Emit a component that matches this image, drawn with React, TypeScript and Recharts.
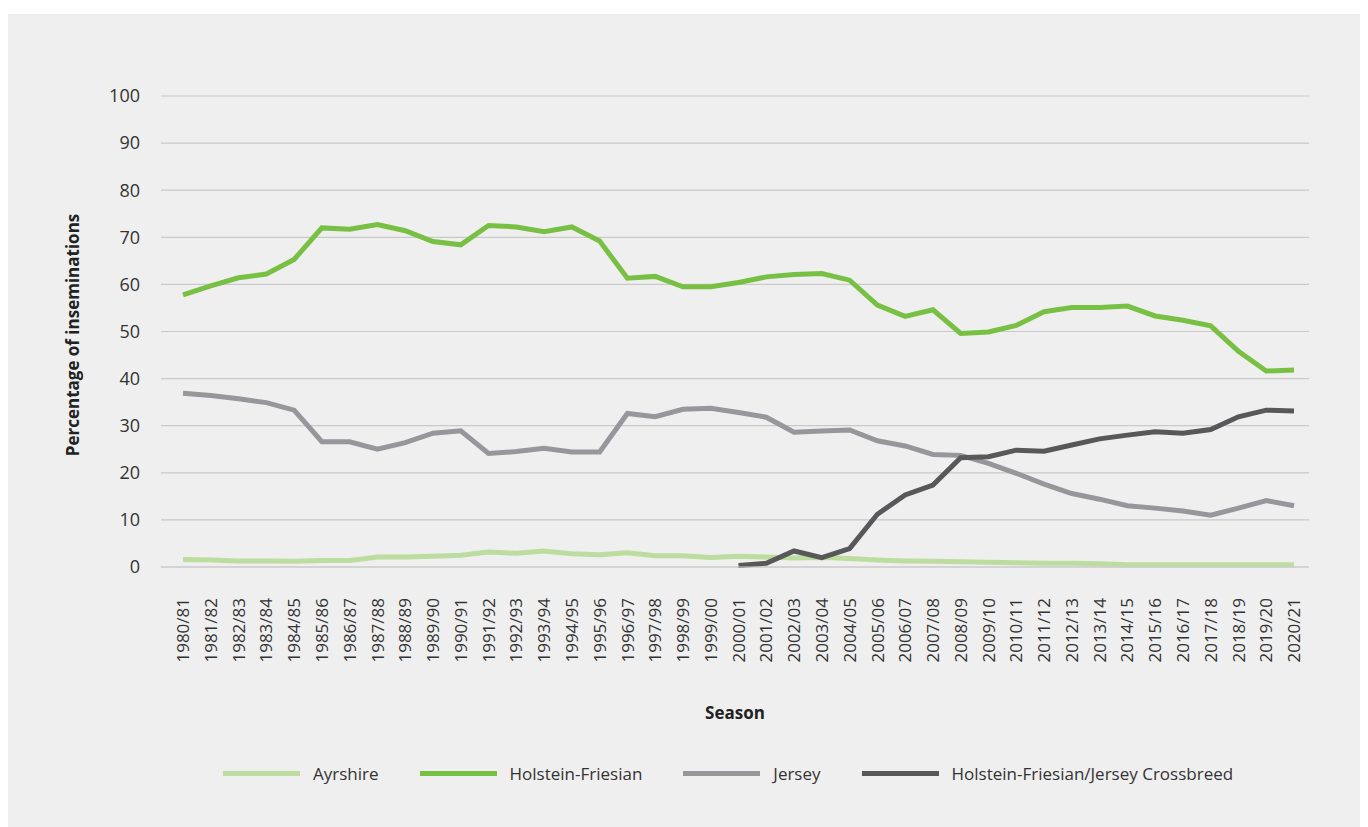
import { LineChart, Line, XAxis, YAxis, CartesianGrid, Legend } from "recharts"

const seasons = [
  "1980/81", "1981/82", "1982/83", "1983/84", "1984/85", "1985/86", "1986/87", "1987/88",
  "1988/89", "1989/90", "1990/91", "1991/92", "1992/93", "1993/94", "1994/95", "1995/96",
  "1996/97", "1997/98", "1998/99", "1999/00", "2000/01", "2001/02", "2002/03", "2003/04",
  "2004/05", "2005/06", "2006/07", "2007/08", "2008/09", "2009/10", "2010/11", "2011/12",
  "2012/13", "2013/14", "2014/15", "2015/16", "2016/17", "2017/18", "2018/19", "2019/20",
  "2020/21",
]

const ayrshire = [
  1.6, 1.5, 1.3, 1.3, 1.2, 1.4, 1.4, 2.1, 2.1, 2.3, 2.5, 3.2, 2.9, 3.4, 2.8, 2.6,
  3.0, 2.4, 2.4, 2.0, 2.3, 2.1, 1.9, 2.0, 1.8, 1.5, 1.3, 1.2, 1.1, 1.0, 0.9, 0.8,
  0.8, 0.7, 0.5, 0.5, 0.5, 0.5, 0.5, 0.5, 0.5,
]

const holsteinFriesian = [
  57.8, 59.7, 61.4, 62.2, 65.3, 72.0, 71.7, 72.7, 71.4, 69.1, 68.4, 72.5, 72.2, 71.2, 72.2, 69.2,
  61.3, 61.7, 59.5, 59.5, 60.4, 61.6, 62.1, 62.3, 60.9, 55.6, 53.2, 54.6, 49.6, 49.9, 51.3, 54.2,
  55.1, 55.1, 55.4, 53.3, 52.4, 51.2, 45.8, 41.6, 41.8,
]

const jersey = [
  36.9, 36.4, 35.7, 34.9, 33.3, 26.6, 26.6, 25.0, 26.4, 28.4, 28.9, 24.1, 24.5, 25.2, 24.4, 24.4,
  32.6, 31.9, 33.5, 33.7, 32.8, 31.8, 28.6, 28.9, 29.1, 26.8, 25.7, 23.9, 23.7, 22.0, 19.9, 17.6,
  15.6, 14.4, 13.0, 12.5, 11.9, 11.0, 12.5, 14.1, 13.0,
]

const crossbreed = [
  null, null, null, null, null, null, null, null, null, null, null, null, null, null, null, null,
  null, null, null, null, 0.3, 0.8, 3.4, 2.0, 3.9, 11.2, 15.3, 17.4, 23.2, 23.4, 24.8, 24.6,
  25.9, 27.2, 28.0, 28.7, 28.4, 29.2, 31.9, 33.3, 33.1,
]

const yTicks = [0, 10, 20, 30, 40, 50, 60, 70, 80, 90, 100]

const series = [
  { key: "ayrshire", name: "Ayrshire", color: "#bddc9f" },
  { key: "holstein", name: "Holstein-Friesian", color: "#78c043" },
  { key: "jersey", name: "Jersey", color: "#97979b" },
  { key: "cross", name: "Holstein-Friesian/Jersey Crossbreed", color: "#58585b" },
]

const data = seasons.map((season, i) => ({
  season,
  ayrshire: ayrshire[i],
  holstein: holsteinFriesian[i],
  jersey: jersey[i],
  cross: crossbreed[i],
}))

const FONT = "'Open Sans', 'Noto Sans', sans-serif"
const GRID = "#c9c9c9"

function SeasonTick({ x, y, payload }: any) {
  return (
    <g transform={`translate(${x},${y + 31})`}>
      <text
        transform="rotate(-90)"
        textAnchor="end"
        dy="0.36em"
        fill="#333"
        fontSize={17}
        fontFamily={FONT}
      >
        {payload.value}
      </text>
    </g>
  )
}

function YTitle() {
  return (
    <text
      x={64}
      y={321}
      transform="rotate(-90, 64, 321)"
      textAnchor="middle"
      dominantBaseline="central"
      fontSize={17}
      fontWeight={700}
      fill="#222"
      fontFamily={FONT}
    >
      Percentage of inseminations
    </text>
  )
}

function LegendBox() {
  return (
    <div
      style={{
        display: "flex",
        alignItems: "center",
        height: 80,
        paddingLeft: 215,
        paddingTop: 12,
        boxSizing: "border-box",
        fontFamily: FONT,
        fontSize: 17,
        color: "#333",
      }}
    >
      {series.map((s) => (
        <div key={s.key} style={{ display: "flex", alignItems: "center", marginRight: 41 }}>
          <span style={{ display: "inline-block", width: 77, height: 5, background: s.color, marginRight: 13 }} />
          <span>{s.name}</span>
        </div>
      ))}
    </div>
  )
}

export default function App() {
  return (
    <div style={{ marginTop: 6, width: 1352, height: 813, background: "#efefef" }}>
      <LineChart
        width={1352}
        height={813}
        data={data}
        margin={{ top: 82, right: 51, left: 0, bottom: 20 }}
      >
        <CartesianGrid vertical={false} stroke={GRID} strokeWidth={1.2} />
        <XAxis
          dataKey="season"
          type="category"
          interval={0}
          padding={{ left: 22, right: 15 }}
          height={160}
          tickLine={false}
          tickSize={0}
          tickMargin={0}
          axisLine={{ stroke: GRID, strokeWidth: 1.2 }}
          tick={<SeasonTick />}
          label={{
            value: "Season",
            position: "insideBottom",
            offset: 8,
            fontSize: 17,
            fontWeight: 700,
            fill: "#222",
            fontFamily: FONT,
          }}
        />
        <YAxis
          width={153}
          domain={[0, 100]}
          ticks={yTicks}
          interval={0}
          axisLine={false}
          tickLine={false}
          tickSize={0}
          tickMargin={21}
          tick={{ fill: "#333", fontSize: 18, fontFamily: FONT }}
          label={<YTitle />}
        />
        <Legend verticalAlign="bottom" height={80} content={<LegendBox />} />
        {series.map((s) => (
          <Line
            key={s.key}
            type="linear"
            dataKey={s.key}
            name={s.name}
            stroke={s.color}
            strokeWidth={5}
            dot={false}
            activeDot={false}
            isAnimationActive={false}
          />
        ))}
      </LineChart>
    </div>
  )
}
